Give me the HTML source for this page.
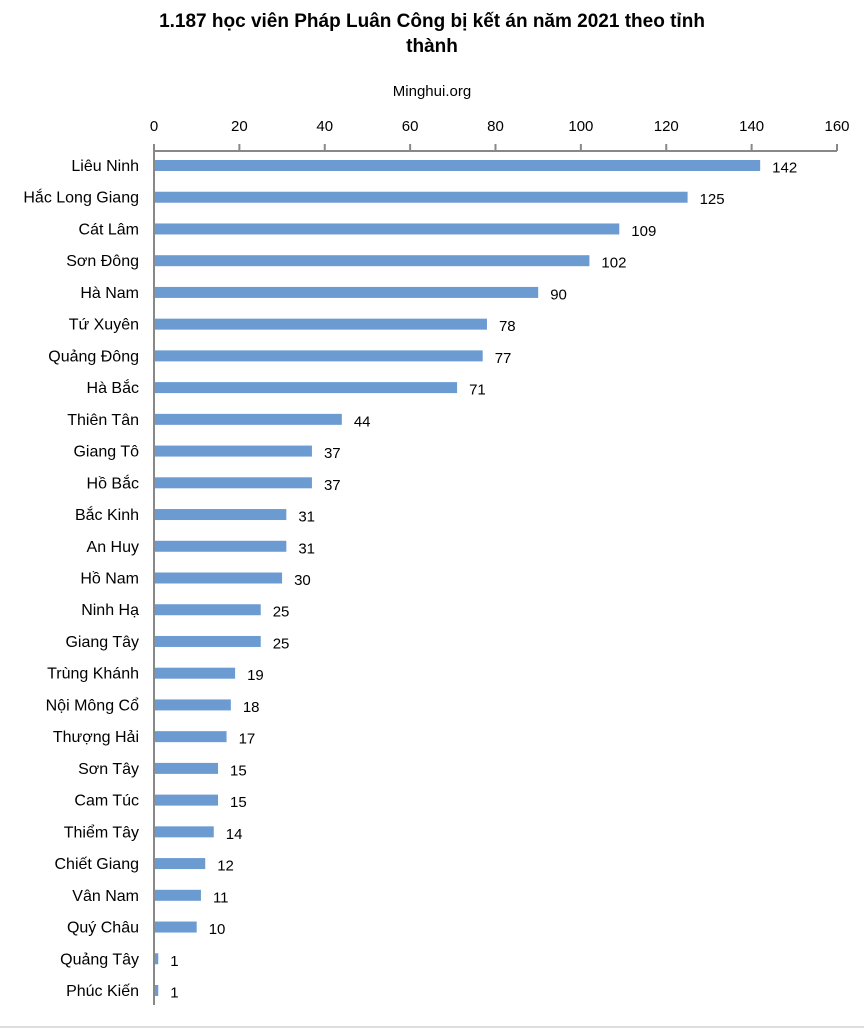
<!DOCTYPE html>
<html><head><meta charset="utf-8"><style>
body{margin:0;background:#fff;width:864px;height:1028px;overflow:hidden;font-family:"Liberation Sans",sans-serif;}
</style></head><body>
<svg width="864" height="1028" id="chart">
<text x="432" y="27" text-anchor="middle" font-size="19" font-weight="bold">1.187 học viên Pháp Luân Công bị kết án năm 2021 theo tỉnh</text>
<text x="432" y="52" text-anchor="middle" font-size="19" font-weight="bold">thành</text>
<text x="432" y="96" text-anchor="middle" font-size="15">Minghui.org</text>
<line x1="0" y1="1027" x2="864" y2="1027" stroke="#ddd" stroke-width="2"/>
</svg>
<script>
const categories=["Liêu Ninh","Hắc Long Giang","Cát Lâm","Sơn Đông","Hà Nam","Tứ Xuyên","Quảng Đông","Hà Bắc","Thiên Tân","Giang Tô","Hồ Bắc","Bắc Kinh","An Huy","Hồ Nam","Ninh Hạ","Giang Tây","Trùng Khánh","Nội Mông Cổ","Thượng Hải","Sơn Tây","Cam Túc","Thiểm Tây","Chiết Giang","Vân Nam","Quý Châu","Quảng Tây","Phúc Kiến"];
const values=[142,125,109,102,90,78,77,71,44,37,37,31,31,30,25,25,19,18,17,15,15,14,12,11,10,1,1];
const ticks=[0,20,40,60,80,100,120,140,160];
const svg=document.getElementById('chart');
const NS='http://www.w3.org/2000/svg';
const x0=154,x1=837,xmax=160;
const xs=v=>x0+v/xmax*(x1-x0);
const y0=165.5,step=(990.5-165.5)/26;
const ys=i=>y0+i*step;
function mk(t,a){const e=document.createElementNS(NS,t);for(const k in a)e.setAttribute(k,a[k]);svg.appendChild(e);return e;}
let l=mk('line',{x1:x0,y1:151,x2:x1,y2:151,stroke:'#888','stroke-width':2});


l=mk('line',{x1:x0,y1:144,x2:x0,y2:1005,stroke:'#888','stroke-width':2});


ticks.forEach(t=>{
 const tk=mk('line',{x1:xs(t),y1:144,x2:xs(t),y2:151,stroke:'#888','stroke-width':2});
 
 
 const tx=mk('text',{x:xs(t),y:131,'text-anchor':'middle','font-size':15});
 tx.textContent=t;
 
 
});
categories.forEach((c,i)=>{
 const y=ys(i);
 const lb=mk('text',{x:139,y:y+5.5,'text-anchor':'end','font-size':16});
 lb.textContent=c;
 
 
 const b=mk('rect',{x:x0+1,y:y-5.5,width:Math.max(xs(values[i])-x0-1,0),height:11,fill:'#6c9bd2'});
 
 
 const v=mk('text',{x:xs(values[i])+12,y:y+7,'font-size':15});
 v.textContent=values[i];
 
 
});
</script>
</body></html>
